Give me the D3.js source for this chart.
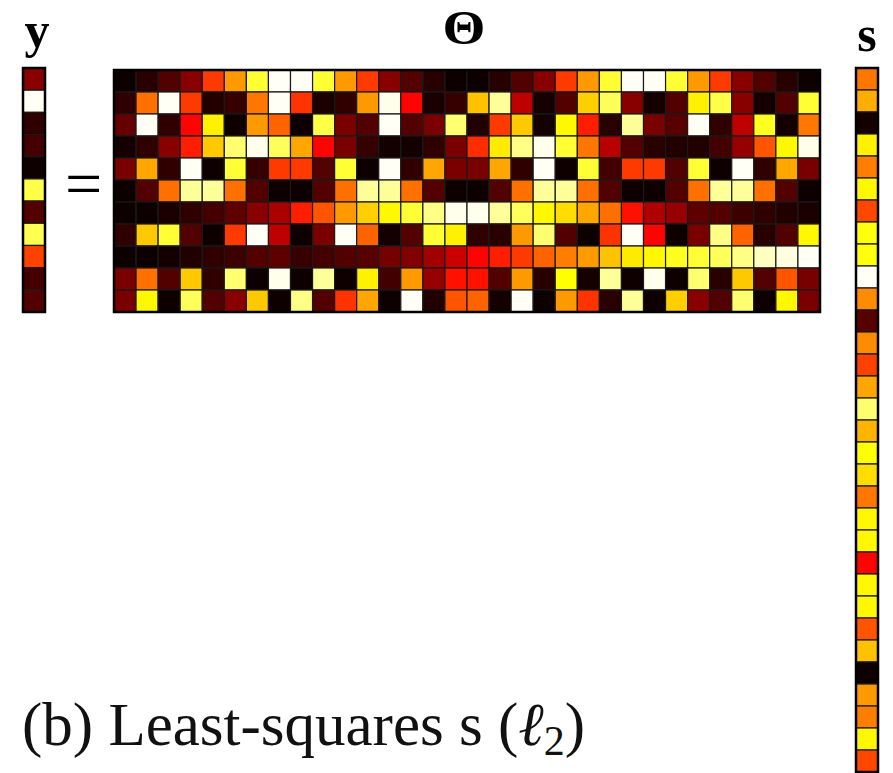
<!DOCTYPE html>
<html>
<head>
<meta charset="utf-8">
<script src="https://cdn.jsdelivr.net/npm/d3@7"></script>
<style>
  body { margin: 0; background: #fff; }
  svg { display: block; }
</style>
</head>
<body>
<svg id="chart" width="893" height="773"></svg>
<script>
// measurement vector y (11 entries)
const yVals = [0.2, 0.99, 0.07, 0.1, 0.02, 0.82, 0.12, 0.83, 0.47, 0.1, 0.12];

// library Theta, 11 rows x 32 columns
const theta = [
  [0.02, 0.06, 0.12, 0.2, 0.46, 0.6, 0.8, 0.99, 0.99, 0.8, 0.6, 0.46, 0.2, 0.12, 0.06, 0.02,
   0.02, 0.06, 0.12, 0.2, 0.46, 0.6, 0.8, 0.99, 0.99, 0.8, 0.6, 0.46, 0.2, 0.12, 0.06, 0.02],
  [0.07, 0.54, 0.99, 0.46, 0.05, 0.08, 0.55, 0.99, 0.45, 0.04, 0.07, 0.6, 0.98, 0.38, 0.04, 0.08,
   0.66, 0.9, 0.28, 0.03, 0.12, 0.68, 0.84, 0.2, 0.03, 0.12, 0.73, 0.82, 0.2, 0.03, 0.12, 0.8],
  [0.15, 0.99, 0.07, 0.38, 0.73, 0.02, 0.6, 0.52, 0.02, 0.82, 0.18, 0.12, 0.99, 0.12, 0.18, 0.86,
   0.05, 0.46, 0.67, 0.03, 0.74, 0.42, 0.06, 0.9, 0.18, 0.13, 0.99, 0.07, 0.28, 0.78, 0.03, 0.55],
  [0.03, 0.07, 0.2, 0.42, 0.67, 0.86, 0.98, 0.84, 0.62, 0.38, 0.18, 0.08, 0.03, 0.03, 0.07, 0.18,
   0.44, 0.72, 0.88, 0.98, 0.8, 0.55, 0.27, 0.12, 0.06, 0.05, 0.05, 0.1, 0.22, 0.5, 0.74, 0.98],
  [0.18, 0.62, 0.07, 0.99, 0.02, 0.8, 0.08, 0.46, 0.46, 0.12, 0.8, 0.02, 0.99, 0.07, 0.62, 0.18,
   0.18, 0.62, 0.07, 0.99, 0.02, 0.8, 0.1, 0.46, 0.46, 0.12, 0.8, 0.02, 0.99, 0.07, 0.62, 0.18],
  [0.02, 0.12, 0.54, 0.9, 0.9, 0.54, 0.12, 0.02, 0.02, 0.12, 0.54, 0.9, 0.9, 0.54, 0.12, 0.02,
   0.02, 0.12, 0.54, 0.9, 0.9, 0.54, 0.12, 0.02, 0.02, 0.12, 0.54, 0.9, 0.9, 0.54, 0.12, 0.02],
  [0.02, 0.02, 0.04, 0.07, 0.1, 0.14, 0.2, 0.25, 0.42, 0.5, 0.6, 0.68, 0.74, 0.8, 0.88, 0.98,
   0.98, 0.9, 0.84, 0.74, 0.7, 0.62, 0.54, 0.4, 0.26, 0.22, 0.14, 0.12, 0.09, 0.07, 0.05, 0.04],
  [0.07, 0.67, 0.8, 0.12, 0.02, 0.46, 0.99, 0.28, 0.02, 0.18, 0.99, 0.52, 0.03, 0.12, 0.8, 0.73,
   0.07, 0.06, 0.6, 0.86, 0.12, 0.02, 0.45, 0.99, 0.38, 0.02, 0.18, 0.88, 0.52, 0.06, 0.12, 0.74],
  [0.02, 0.02, 0.03, 0.05, 0.07, 0.09, 0.12, 0.14, 0.08, 0.1, 0.12, 0.13, 0.17, 0.19, 0.24, 0.3,
   0.38, 0.42, 0.46, 0.52, 0.56, 0.6, 0.66, 0.72, 0.74, 0.78, 0.8, 0.84, 0.88, 0.94, 0.97, 0.99],
  [0.18, 0.54, 0.12, 0.67, 0.07, 0.86, 0.02, 0.98, 0.02, 0.9, 0.02, 0.73, 0.1, 0.6, 0.22, 0.4,
   0.4, 0.12, 0.6, 0.06, 0.75, 0.03, 0.9, 0.02, 0.98, 0.02, 0.86, 0.06, 0.67, 0.12, 0.5, 0.18],
  [0.18, 0.74, 0.02, 0.84, 0.12, 0.2, 0.67, 0.02, 0.88, 0.12, 0.45, 0.62, 0.02, 0.99, 0.05, 0.5,
   0.52, 0.03, 0.99, 0.02, 0.6, 0.45, 0.06, 0.9, 0.02, 0.68, 0.2, 0.12, 0.86, 0.02, 0.74, 0.18]
];

// least-squares solution s (32 entries)
const sVals = [0.55, 0.63, 0.03, 0.73, 0.56, 0.74, 0.48, 0.76, 0.76, 0.99, 0.58, 0.13, 0.58, 0.47, 0.62, 0.86,
               0.64, 0.75, 0.7, 0.55, 0.74, 0.74, 0.38, 0.74, 0.74, 0.5, 0.66, 0.02, 0.6, 0.56, 0.74, 0.48];

const labels = { y: "y", theta: "Θ", s: "s" };
const caption = "(b) Least-squares s (";

const svg = d3.select("#chart");

// "hot" colormap
const hot = d3.scaleLinear()
  .domain([0, 0.375, 0.75, 1])
  .range(["#000000", "#ff0000", "#ffff00", "#ffffff"])
  .clamp(true);

const cellStroke = "#1a1a1a";

// ---- Theta matrix
const nRows = theta.length, nCols = theta[0].length;
const tx = d3.scaleBand().domain(d3.range(nCols)).range([114, 820]);
const ty = d3.scaleBand().domain(d3.range(nRows)).range([70, 312]);

const cells = [];
theta.forEach((row, r) => row.forEach((v, c) => cells.push({ r, c, v })));

const gT = svg.append("g");
gT.selectAll("rect")
  .data(cells)
  .join("rect")
  .attr("x", d => tx(d.c))
  .attr("y", d => ty(d.r))
  .attr("width", tx.bandwidth())
  .attr("height", ty.bandwidth())
  .attr("fill", d => hot(d.v))
  .attr("stroke", cellStroke)
  .attr("stroke-width", 1.2);
gT.append("rect")
  .attr("x", tx.range()[0]).attr("y", ty.range()[0])
  .attr("width", tx.range()[1] - tx.range()[0])
  .attr("height", ty.range()[1] - ty.range()[0])
  .attr("fill", "none").attr("stroke", "#000").attr("stroke-width", 2.5);

// ---- column vectors
function drawVector(vals, x0, x1, y0, y1) {
  const vy = d3.scaleBand().domain(d3.range(vals.length)).range([y0, y1]);
  const g = svg.append("g");
  g.selectAll("rect")
    .data(vals)
    .join("rect")
    .attr("x", x0)
    .attr("y", (d, i) => vy(i))
    .attr("width", x1 - x0)
    .attr("height", vy.bandwidth())
    .attr("fill", d => hot(d))
    .attr("stroke", cellStroke)
    .attr("stroke-width", 1.2);
  g.append("rect")
    .attr("x", x0).attr("y", y0)
    .attr("width", x1 - x0).attr("height", y1 - y0)
    .attr("fill", "none").attr("stroke", "#000").attr("stroke-width", 2.5);
}
drawVector(yVals, 23, 45, 68, 312);
drawVector(sVals, 856, 878, 68, 772);

// ---- labels
const lbFont = "'Liberation Serif', serif";
svg.append("text").attr("x", 37).attr("y", 47)
  .attr("text-anchor", "middle").attr("font-family", lbFont)
  .attr("font-weight", "bold").attr("font-size", 50).text(labels.y);
svg.append("text").attr("x", 464).attr("y", 44)
  .attr("text-anchor", "middle").attr("font-family", lbFont)
  .attr("font-weight", "bold").attr("font-size", 48)
  .attr("transform", "translate(464,0) scale(1.15,1) translate(-464,0)")
  .text(labels.theta);
svg.append("text").attr("x", 867).attr("y", 51)
  .attr("text-anchor", "middle").attr("font-family", lbFont)
  .attr("font-weight", "bold").attr("font-size", 50).text(labels.s);

// equals sign
svg.append("text").attr("x", 83.5).attr("y", 206)
  .attr("text-anchor", "middle").attr("font-family", lbFont)
  .attr("font-size", 66).text("=");

// caption
const cap = svg.append("text").attr("x", 22).attr("y", 745)
  .attr("font-family", lbFont)
  .attr("font-size", 61).attr("fill", "#111");
cap.append("tspan").text(caption);
cap.append("tspan").attr("font-style", "italic").text("ℓ");
cap.append("tspan").attr("font-size", 42).attr("dy", 10).text("2");
cap.append("tspan").attr("dy", -10).text(")");
</script>
</body>
</html>
